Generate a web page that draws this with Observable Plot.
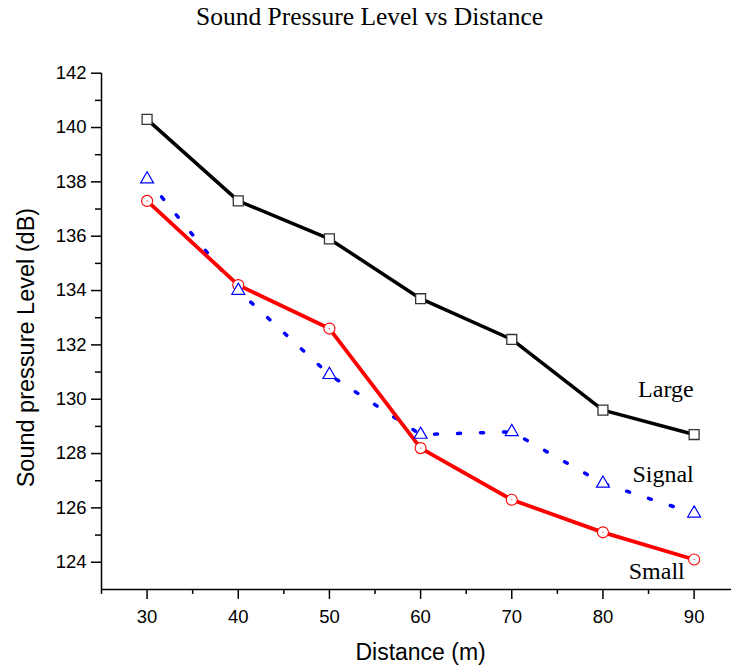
<!DOCTYPE html>
<html><head><meta charset="utf-8">
<script src="https://cdn.jsdelivr.net/npm/d3@7"></script>
<script src="https://cdn.jsdelivr.net/npm/@observablehq/plot@0.6"></script>
<style>body{margin:0;background:#fff}</style>
</head><body><div id="chart"></div>
<script>
const distance = [30, 40, 50, 60, 70, 80, 90];
const large  = [140.3, 137.3, 135.9, 133.7, 132.2, 129.6, 128.7];
const signal = [138.1, 134.0, 130.9, 128.7, 128.8, 126.9, 125.8];
const small  = [137.3, 134.2, 132.6, 128.2, 126.3, 125.1, 124.1];
const seriesNames = ["Large", "Signal", "Small"];
const yMajor = [124, 126, 128, 130, 132, 134, 136, 138, 140, 142];
const yMinor = [125, 127, 129, 131, 133, 135, 137, 139, 141];
const xMajor = [30, 40, 50, 60, 70, 80, 90];
const xMinor = [25, 35, 45, 55, 65, 75, 85];
const titleText = "Sound Pressure Level vs Distance";
const xLabel = "Distance (m)";
const yLabel = "Sound pressure Level (dB)";

const rows = distance.map((d, i) => ({distance: d, large: large[i], signal: signal[i], small: small[i]}));
const serif = "'Liberation Serif', 'Times New Roman', serif";
const sans = "'Liberation Sans', Arial, Helvetica, sans-serif";

const chart = Plot.plot({
  width: 731,
  height: 668,
  marginLeft: 101,
  marginRight: 0,
  marginTop: 72.7,
  marginBottom: 79.1,
  style: {fontFamily: sans, background: "#fff", overflow: "visible"},
  x: {domain: [25, 94.1]},
  y: {domain: [123, 142]},
  marks: [
    Plot.axisY(yMajor, {tickSize: 10, tickPadding: 5, fontSize: 18.5, strokeWidth: 1.5, label: null, color: "#000"}),
    Plot.axisY(yMinor, {tickSize: 6, tickFormat: () => "", strokeWidth: 1.5, label: null}),
    Plot.axisX(xMajor, {tickSize: 10, tickPadding: 10, fontSize: 18.5, strokeWidth: 1.5, label: null}),
    Plot.axisX(xMinor, {tickSize: 5, tickFormat: () => "", strokeWidth: 1.5, label: null}),
    Plot.ruleX([25], {stroke: "#000", strokeWidth: 1.5}),
    Plot.ruleY([123], {stroke: "#000", strokeWidth: 1.5}),
    Plot.line(rows, {x: "distance", y: "signal", stroke: "#0000ff", strokeWidth: 3.5, strokeDasharray: "3,20", strokeLinecap: "round"}),
    Plot.line(rows, {x: "distance", y: "large", stroke: "#000", strokeWidth: 3.5, strokeLinejoin: "round"}),
    Plot.line(rows, {x: "distance", y: "small", stroke: "#ff0000", strokeWidth: 3.8, strokeLinejoin: "round"}),
    Plot.dot(rows, {x: "distance", y: "large", symbol: "square", r: 5.6, fill: "#fff", stroke: "#333", strokeWidth: 1.3}),
    Plot.dot(rows, {x: "distance", y: "small", symbol: "circle", r: 5.5, fill: "#fff", stroke: "#ff0000", strokeWidth: 1.1}),
    Plot.dot(rows, {x: "distance", y: "small", symbol: "circle", r: 0.6, fill: "#ff0000", stroke: "none"}),
    Plot.dot(rows, {x: "distance", y: "signal", symbol: "triangle", r: 4.8, fill: "#fff", stroke: "#0000ff", strokeWidth: 1.2}),
    Plot.text([seriesNames[0]], {x: () => 86.9, y: () => 130.35, fontFamily: serif, fontSize: 24, fill: "#000"}),
    Plot.text([seriesNames[1]], {x: () => 86.6, y: () => 127.22, fontFamily: serif, fontSize: 24, fill: "#000"}),
    Plot.text([seriesNames[2]], {x: () => 85.9, y: () => 123.65, fontFamily: serif, fontSize: 24, fill: "#000"}),
    Plot.text([titleText], {x: () => 54.4, y: () => 144.06, fontFamily: serif, fontSize: 25.5, fill: "#000"}),
    Plot.text([xLabel], {x: () => 60, y: () => 120.67, fontSize: 23, fill: "#000"}),
    Plot.text([yLabel], {x: () => 25, y: () => 131.9, rotate: -90, dx: -75, fontSize: 23.5, fill: "#000"})
  ]
});
document.getElementById("chart").appendChild(chart);
</script>
</body></html>
